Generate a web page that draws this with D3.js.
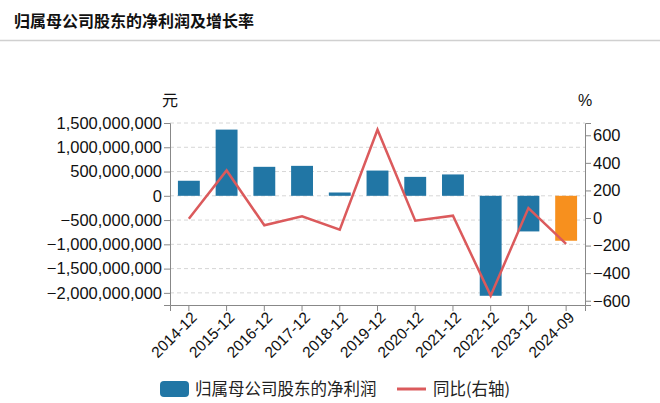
<!DOCTYPE html>
<html>
<head>
<meta charset="utf-8">
<script src="https://cdn.jsdelivr.net/npm/d3@7"></script>
<style>
  body { margin: 0; background: #fff; font-family: "Noto Sans CJK SC", "Liberation Sans", sans-serif; }
  .grid line { stroke: #d6d6d6; stroke-dasharray: 4,3; }
  .axis path, .axis line { stroke: #888; }
  .axis text { fill: #111; font-family: "Liberation Sans", Arial, sans-serif; }
</style>
</head>
<body>
<div id="figure"></div>
<script>
const periods = ["2014-12", "2015-12", "2016-12", "2017-12", "2018-12", "2019-12",
                 "2020-12", "2021-12", "2022-12", "2023-12", "2024-09"];
const profit = [310000000, 1364000000, 597000000, 617000000, 68000000, 520000000,
                390000000, 440000000, -2060000000, -734000000, -926000000];
const yoy = [-5, 345, -53, 12, -85, 640, -20, 17, -563, 72, -188];
const leftTicks = [1500000000, 1000000000, 500000000, 0, -500000000, -1000000000, -1500000000, -2000000000];
const rightTicks = [600, 400, 200, 0, -200, -400, -600];

const W = 660, H = 403;
const margin = {top: 123, right: 75, bottom: 98, left: 170};
const width = W - margin.left - margin.right,
      height = H - margin.top - margin.bottom;

const root = d3.select("#figure").append("svg")
  .attr("width", W).attr("height", H);

// title + separator
root.append("text")
  .attr("x", 14).attr("y", 27)
  .attr("font-size", 16).attr("font-weight", "bold").attr("fill", "#111")
  .text("归属母公司股东的净利润及增长率");
root.append("line")
  .attr("x1", 0).attr("x2", W).attr("y1", 40.5).attr("y2", 40.5)
  .attr("stroke", "#d0d0d0").attr("stroke-width", 1.5);

const svg = root.append("g")
  .attr("transform", `translate(${margin.left},${margin.top})`);

const x = d3.scaleBand().domain(periods).range([0, width])
  .paddingInner(0.42).paddingOuter(0.21);
const y = d3.scaleLinear().domain([-2250000000, 1500000000]).range([height, 0]);
const y2 = d3.scaleLinear().domain([-631, 689]).range([height, 0]);

// grid
svg.append("g").attr("class", "grid")
  .selectAll("line").data(leftTicks).join("line")
  .attr("x1", 0).attr("x2", width)
  .attr("y1", d => y(d)).attr("y2", d => y(d));

// bars
svg.selectAll(".bar").data(profit).join("rect")
  .attr("class", "bar")
  .attr("x", (d, i) => x(periods[i]))
  .attr("width", x.bandwidth())
  .attr("y", d => y(Math.max(0, d)))
  .attr("height", d => Math.abs(y(d) - y(0)))
  .attr("fill", (d, i) => i === periods.length - 1 ? "#f7901e" : "#2176a5");

// line
svg.append("path")
  .datum(yoy)
  .attr("fill", "none")
  .attr("stroke", "#db5a5c")
  .attr("stroke-width", 2.5)
  .attr("d", d3.line()
    .x((d, i) => x(periods[i]) + x.bandwidth() / 2)
    .y(d => y2(d)));

// axes
const fmt = d3.format(",");
svg.append("g").attr("class", "axis")
  .call(d3.axisLeft(y).tickValues(leftTicks).tickFormat(fmt).tickSizeOuter(0).tickSize(6))
  .selectAll("text").attr("font-size", 16.5).attr("dx", "1px");

svg.append("g").attr("class", "axis")
  .attr("transform", `translate(${width},0)`)
  .call(d3.axisRight(y2).tickValues(rightTicks).tickSizeOuter(0).tickSize(6))
  .selectAll("text").attr("font-size", 16.5).attr("dx", "-1px");

const xa = svg.append("g").attr("class", "axis")
  .attr("transform", `translate(0,${height})`)
  .call(d3.axisBottom(x).tickSizeOuter(0).tickSize(6));
xa.selectAll("text")
  .attr("font-size", 15.5)
  .attr("text-anchor", "end")
  .attr("dx", "-0.2em").attr("dy", "0.45em")
  .attr("transform", "rotate(-45)");

// units
svg.append("text").attr("x", 0).attr("y", -17)
  .attr("text-anchor", "middle").attr("font-size", 16).attr("fill", "#111")
  .text("元");
svg.append("text").attr("x", width).attr("y", -17)
  .attr("text-anchor", "middle").attr("font-size", 16).attr("fill", "#111")
  .attr("font-family", "Liberation Sans, Arial, sans-serif")
  .text("%");

// legend
const lg = root.append("g").attr("transform", "translate(160,389)");
lg.append("rect").attr("x", 0).attr("y", -8).attr("width", 29).attr("height", 16)
  .attr("rx", 4).attr("fill", "#2176a5");
lg.append("text").attr("x", 35).attr("y", 6)
  .attr("font-size", 16.5).attr("fill", "#222").text("归属母公司股东的净利润");
lg.append("line").attr("x1", 237).attr("x2", 266).attr("y1", 0).attr("y2", 0)
  .attr("stroke", "#db5a5c").attr("stroke-width", 3);
lg.append("text").attr("x", 273).attr("y", 6)
  .attr("font-size", 16.5).attr("fill", "#222").text("同比(右轴)");
</script>
</body>
</html>
